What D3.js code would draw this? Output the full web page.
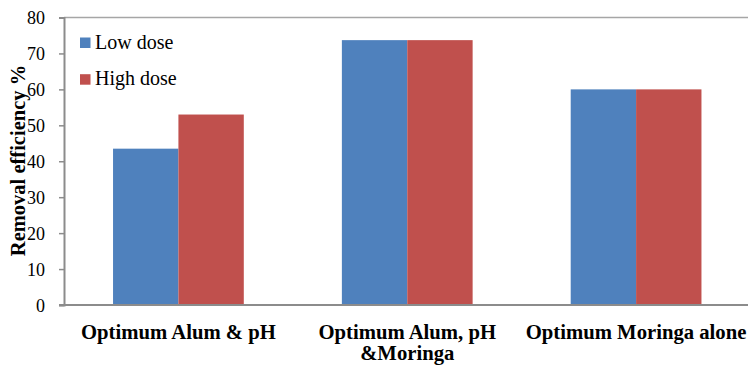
<!DOCTYPE html>
<html>
<head>
<meta charset="utf-8">
<script src="https://cdn.jsdelivr.net/npm/d3@7/dist/d3.min.js"></script>
<style>
  html, body { margin: 0; padding: 0; background: #fff; }
  svg { display: block; }
</style>
</head>
<body>
<svg id="chart" width="748" height="365"></svg>
<script>
// Removal efficiency by treatment, low vs high dose
const categories = [
  ["Optimum Alum & pH"],
  ["Optimum Alum, pH", "&Moringa"],
  ["Optimum Moringa alone"]
];
const seriesNames = ["Low dose", "High dose"];
const lowDose = [43.5, 73.7, 60];
const highDose = [53, 73.7, 60];
const yTicks = [0, 10, 20, 30, 40, 50, 60, 70, 80];
const colors = ["#4F81BD", "#C0504D"];

const svg = d3.select("#chart");
const plotLeft = 64, plotRight = 750.5, plotTop = 17.5, plotBottom = 305;
const fontStack = "Liberation Serif";

const catKeys = categories.map(c => c.join(" "));
const x = d3.scaleBand().domain(catKeys).range([plotLeft, plotRight])
  .paddingInner(0.4286).paddingOuter(0.2143);
const xs = d3.scaleBand().domain(seriesNames).range([0, x.bandwidth()]);
const y = d3.scaleLinear().domain([0, 80]).range([plotBottom, plotTop]);

const axisColor = "#8c8c8c";

// top border of the plot area
svg.append("line")
  .attr("x1", plotLeft).attr("x2", 748)
  .attr("y1", plotTop).attr("y2", plotTop)
  .attr("stroke", "#a6a6a6").attr("stroke-width", 1.5);

// bars
const rows = catKeys.map((k, i) => ({ key: k, values: [lowDose[i], highDose[i]] }));
const groups = svg.append("g").selectAll("g").data(rows).join("g")
  .attr("transform", d => `translate(${x(d.key)},0)`);
groups.selectAll("rect")
  .data(d => d.values.map((v, j) => ({ name: seriesNames[j], v, j })))
  .join("rect")
  .attr("x", d => xs(d.name))
  .attr("width", xs.bandwidth())
  .attr("y", d => y(d.v))
  .attr("height", d => y(0) - y(d.v))
  .attr("fill", d => colors[d.j]);

// y axis
const yAxis = svg.append("g")
  .attr("transform", `translate(${plotLeft},0)`)
  .call(d3.axisLeft(y).tickValues(yTicks).tickSize(5).tickPadding(14))
  .attr("font-family", fontStack).attr("font-size", 18);
yAxis.select(".domain").attr("stroke", axisColor).attr("stroke-width", 2);
yAxis.selectAll(".tick line").attr("stroke", axisColor).attr("stroke-width", 1.5);
yAxis.selectAll(".tick text").attr("fill", "#000").attr("dy", "0.34em");

// x axis baseline
svg.append("line")
  .attr("x1", plotLeft - 5).attr("x2", 748)
  .attr("y1", plotBottom).attr("y2", plotBottom)
  .attr("stroke", axisColor).attr("stroke-width", 2);

// category labels
const catLabels = svg.append("g").selectAll("text").data(categories).join("text")
  .attr("x", (d, i) => x(catKeys[i]) + x.bandwidth() / 2)
  .attr("y", 339)
  .attr("text-anchor", "middle")
  .attr("font-family", fontStack).attr("font-weight", "bold")
  .attr("font-size", 20.7).attr("fill", "#000");
catLabels.selectAll("tspan").data(d => d).join("tspan")
  .attr("x", function() { return this.parentNode.getAttribute("x"); })
  .attr("dy", (d, i) => i === 0 ? 0 : 21)
  .text(d => d);

// y axis title
svg.append("text")
  .attr("transform", "translate(25,160.5) rotate(-90)")
  .attr("text-anchor", "middle")
  .attr("font-family", fontStack).attr("font-weight", "bold")
  .attr("font-size", 20.5).attr("fill", "#000")
  .text("Removal efficiency %");

// legend
const legend = svg.append("g").selectAll("g").data(seriesNames).join("g")
  .attr("transform", (d, i) => `translate(80,${37.5 + i * 36.7})`);
legend.append("rect")
  .attr("width", 10.5).attr("height", 10.5)
  .attr("fill", (d, i) => colors[i]);
legend.append("text")
  .attr("x", 15).attr("y", 11)
  .attr("font-family", fontStack).attr("font-size", 20).attr("fill", "#000")
  .text(d => d);
</script>
</body>
</html>
